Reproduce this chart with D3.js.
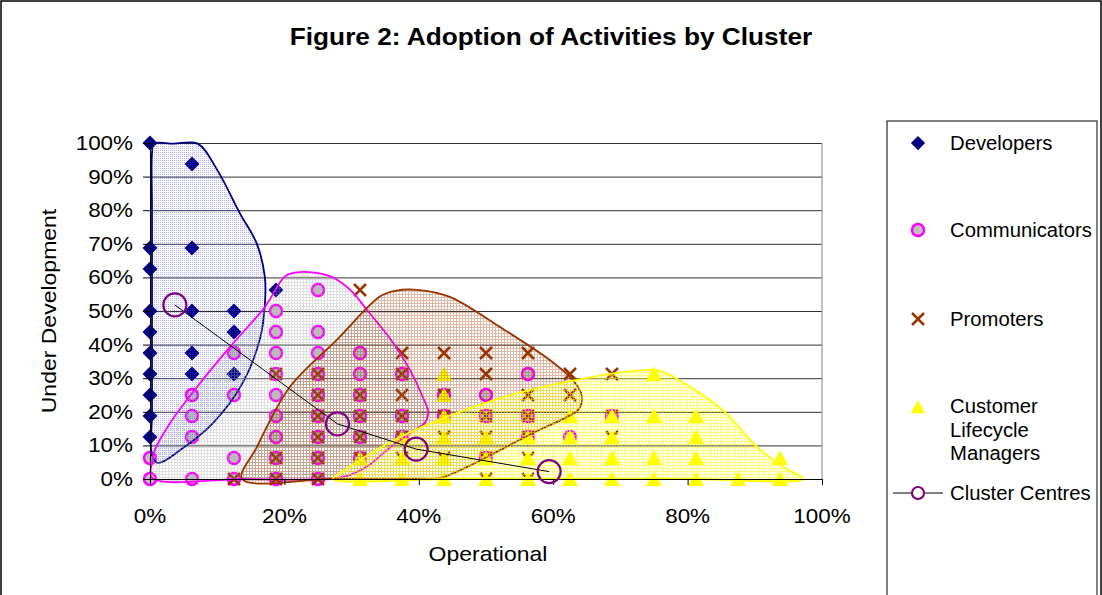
<!DOCTYPE html>
<html>
<head>
<meta charset="utf-8">
<script src="https://cdn.jsdelivr.net/npm/d3@7"></script>
<style>
  html, body { margin: 0; padding: 0; background: #fff; }
  text { font-family: "Liberation Sans", Arial, sans-serif; fill: #000; }
</style>
</head>
<body>
<div id="chart"></div>
<script>
// values are [operational %, under development %]
const developers = [
  [0, 100], [0, 68.75], [0, 62.5], [0, 50], [0, 43.75], [0, 37.5], [0, 31.25], [0, 25], [0, 18.75], [0, 12.5],
  [6.25, 93.75], [6.25, 68.75], [6.25, 50], [6.25, 37.5], [6.25, 31.25],
  [12.5, 50], [12.5, 43.75], [12.5, 31.25],
  [18.75, 56.25]
];
const communicators = [
  [0, 6.25], [0, 0],
  [6.25, 25], [6.25, 18.75], [6.25, 12.5], [6.25, 0],
  [12.5, 37.5], [12.5, 25], [12.5, 6.25], [12.5, 0],
  [18.75, 50], [18.75, 43.75], [18.75, 37.5], [18.75, 31.25], [18.75, 25], [18.75, 18.75], [18.75, 12.5], [18.75, 6.25], [18.75, 0],
  [25, 56.25], [25, 43.75], [25, 37.5], [25, 31.25], [25, 25], [25, 18.75], [25, 12.5], [25, 6.25], [25, 0],
  [31.25, 37.5], [31.25, 31.25], [31.25, 25], [31.25, 18.75], [31.25, 12.5], [31.25, 6.25],
  [37.5, 31.25], [37.5, 18.75], [37.5, 12.5],
  [43.75, 25], [43.75, 18.75],
  [50, 25], [50, 18.75], [50, 6.25],
  [56.25, 31.25], [56.25, 18.75], [56.25, 12.5],
  [62.5, 12.5],
  [68.75, 18.75]
];
const promoters = [
  [12.5, 0],
  [18.75, 31.25], [18.75, 6.25], [18.75, 0],
  [25, 31.25], [25, 25], [25, 18.75], [25, 12.5], [25, 6.25], [25, 0],
  [31.25, 56.25], [31.25, 25], [31.25, 18.75], [31.25, 12.5], [31.25, 6.25],
  [37.5, 37.5], [37.5, 31.25], [37.5, 25], [37.5, 18.75], [37.5, 12.5], [37.5, 6.25],
  [43.75, 37.5], [43.75, 25], [43.75, 18.75], [43.75, 12.5], [43.75, 6.25],
  [50, 37.5], [50, 31.25], [50, 18.75], [50, 12.5], [50, 6.25], [50, 0],
  [56.25, 37.5], [56.25, 25], [56.25, 18.75], [56.25, 12.5], [56.25, 6.25], [56.25, 0],
  [62.5, 31.25], [62.5, 25],
  [68.75, 31.25], [68.75, 18.75], [68.75, 12.5]
];
const lifecycleManagers = [
  [31.25, 6.25], [31.25, 0],
  [37.5, 12.5], [37.5, 6.25], [37.5, 0],
  [43.75, 31.25], [43.75, 25], [43.75, 18.75], [43.75, 12.5], [43.75, 6.25], [43.75, 0],
  [50, 12.5], [50, 6.25], [50, 0],
  [56.25, 12.5], [56.25, 6.25], [56.25, 0],
  [62.5, 18.75], [62.5, 12.5], [62.5, 6.25], [62.5, 0],
  [68.75, 18.75], [68.75, 12.5], [68.75, 6.25], [68.75, 0],
  [75, 31.25], [75, 18.75], [75, 6.25], [75, 0],
  [81.25, 18.75], [81.25, 12.5], [81.25, 6.25], [81.25, 0],
  [87.5, 0],
  [93.75, 6.25], [93.75, 0]
];
const clusterCentres = [[3.7, 51.8], [27.9, 16.4], [39.6, 8.9], [59.4, 2.2]];

// hand drawn cluster outlines, same units
const devOutline = [[0.3, 97], [0.6, 99.8], [3.5, 99.8], [7.1, 99.8], [10, 92], [13.4, 79], [15.9, 70], [17.1, 60], [17.1, 52], [16.4, 42], [13.8, 28.6], [9.4, 16.7], [4.5, 8.6], [1.2, 4.8], [0.3, 7], [0.3, 20], [0.3, 50], [0.3, 80]];
const commOutline = [[0.3, 0.3], [0.3, 5], [0.7, 8.6], [3, 16.7], [7, 27.4], [11.9, 39.3], [17.1, 51.2], [20.2, 60.5], [22.3, 61.6], [26.8, 60.4], [29.8, 56.3], [32.3, 50.3], [36.2, 40.5], [38.7, 32.4], [40.6, 24.4], [41.4, 19.9], [40.9, 16.7], [38.7, 13.7], [35.5, 9], [32.5, 4], [29.5, 1], [26, 0], [14, 0]];
const promOutline = [[13.7, 0], [15.9, 9.5], [20.8, 27.4], [27.8, 41.4], [34.2, 54.3], [36.5, 56], [39.7, 56.3], [44.6, 54.2], [52.1, 45.2], [59.5, 35.4], [62.9, 29.5], [64.3, 24.4], [63.7, 20.5], [62.1, 18.5], [57, 13.7], [52.1, 8.6], [47.2, 3.6], [43.2, 0.3], [40, 0], [27, 0]];
const clmOutline = [[27.2, 0], [29, 2.7], [37.2, 12.5], [52.1, 24.1], [64.3, 29.8], [72.9, 32.3], [76, 32.1], [80.4, 27.4], [85.4, 20.2], [90.5, 9.2], [94.5, 3.3], [97.2, 0], [80, 0], [62, 0], [45, 0]];

const yTicks = [0, 10, 20, 30, 40, 50, 60, 70, 80, 90, 100];
const xTicks = [0, 20, 40, 60, 80, 100];
const legendLabels = ["Developers", "Communicators", "Promoters", ["Customer", "Lifecycle", "Managers"], "Cluster Centres"];

const plotLeft = 150, plotTop = 143, plotWidth = 672, plotHeight = 336;

const svg = d3.select("#chart").append("svg")
  .attr("width", 1102).attr("height", 595);

svg.append("rect").attr("x", 0).attr("y", 0).attr("width", 1102).attr("height", 595).attr("fill", "#fff");
svg.append("rect").attr("x", 1).attr("y", 1).attr("width", 1100).attr("height", 600)
  .attr("fill", "none").attr("stroke", "#000").attr("stroke-width", 1.5);

// patterns for the cluster shading
const defs = svg.append("defs");
function gridPattern(id, colour, opacity) {
  const p = defs.append("pattern").attr("id", id).attr("patternUnits", "userSpaceOnUse")
    .attr("width", 3).attr("height", 3);
  p.append("rect").attr("width", 3).attr("height", 1).attr("fill", colour).attr("opacity", opacity);
  p.append("rect").attr("y", 1).attr("width", 1).attr("height", 2).attr("fill", colour).attr("opacity", opacity);
}
const dotPat = defs.append("pattern").attr("id", "devPat").attr("patternUnits", "userSpaceOnUse")
  .attr("width", 2).attr("height", 2);
dotPat.append("rect").attr("width", 1).attr("height", 1).attr("fill", "#3b3bff").attr("opacity", 0.42);
gridPattern("commPat", "#a8a8a8", 0.36);
gridPattern("promPat", "#993300", 0.34);
gridPattern("clmPat", "#ffff00", 0.5);

const x = d3.scaleLinear().domain([0, 100]).range([plotLeft, plotLeft + plotWidth]);
const y = d3.scaleLinear().domain([0, 100]).range([plotTop + plotHeight, plotTop]);

function label(sel, px, py, str, o) {
  o = o || {};
  return sel.append("text")
    .attr("transform", `translate(${px},${py})` + (o.rotate ? ` rotate(${o.rotate})` : "") + ` scale(${o.sx || 1.15},1)`)
    .attr("text-anchor", o.anchor || "start")
    .style("font-size", (o.size || 19.5) + "px")
    .style("font-weight", o.weight || "normal")
    .text(str);
}

// title
label(svg, 551, 45, "Figure 2: Adoption of Activities by Cluster", { anchor: "middle", size: 23, weight: "bold", sx: 1.14 });

// gridlines
svg.append("g")
  .attr("transform", `translate(${plotLeft},0)`)
  .call(d3.axisLeft(y).tickValues(yTicks).tickSize(-plotWidth).tickFormat(""))
  .call(g => g.select(".domain").remove())
  .call(g => g.selectAll("line").attr("stroke", "#333"));

// markers
const diamond = "M0,-7.5L7.5,0L0,7.5L-7.5,0Z";
const triangle = "M0,-7.5L8,7L-8,7Z";

const marks = svg.append("g");
function drawDiamonds(g, data) {
  g.selectAll(null).data(data).join("path")
    .attr("d", diamond)
    .attr("transform", d => `translate(${x(d[0])},${y(d[1])})`)
    .attr("fill", "#000080");
}
function drawCircles(g, data) {
  g.selectAll(null).data(data).join("circle")
    .attr("cx", d => x(d[0])).attr("cy", d => y(d[1])).attr("r", 6)
    .attr("fill", "#c0c0c0").attr("stroke", "#ff00ff").attr("stroke-width", 2.5);
}
function drawCrosses(g, data) {
  g.selectAll(null).data(data).join("path")
    .attr("d", "M-6,-6L6,6M-6,6L6,-6")
    .attr("transform", d => `translate(${x(d[0])},${y(d[1])})`)
    .attr("stroke", "#993300").attr("stroke-width", 2.5).attr("fill", "none");
}
function drawTriangles(g, data) {
  g.selectAll(null).data(data).join("path")
    .attr("d", triangle)
    .attr("transform", d => `translate(${x(d[0])},${y(d[1])})`)
    .attr("fill", "#ffff00");
}
drawDiamonds(marks.append("g"), developers);
drawCircles(marks.append("g"), communicators);
drawCrosses(marks.append("g"), promoters);
drawTriangles(marks.append("g"), lifecycleManagers);

// cluster outlines over the points
const blob = d3.line().x(d => x(d[0])).y(d => y(d[1])).curve(d3.curveCatmullRomClosed.alpha(0.5));
const outlines = [
  [devOutline, "url(#devPat)", "#000080"],
  [commOutline, "url(#commPat)", "#ff00ff"],
  [promOutline, "url(#promPat)", "#993300"],
  [clmOutline, "url(#clmPat)", "#ffff00"]
];
outlines.forEach(o => {
  svg.append("path").datum(o[0])
    .attr("d", blob)
    .attr("fill", o[1])
    .attr("stroke", o[2])
    .attr("stroke-width", 1.8);
});

// axes
svg.append("g")
  .attr("transform", `translate(${plotLeft},0)`)
  .call(d3.axisLeft(y).tickValues(yTicks).tickSize(7).tickFormat(""))
  .call(g => g.selectAll("line, path").attr("stroke", "#000"));
svg.append("g")
  .attr("transform", `translate(0,${plotTop + plotHeight})`)
  .call(d3.axisBottom(x).tickValues(xTicks).tickSize(6).tickFormat(""))
  .call(g => g.selectAll("line, path").attr("stroke", "#000"));
svg.append("line")
  .attr("x1", x(100)).attr("x2", x(100)).attr("y1", y(0)).attr("y2", y(100))
  .attr("stroke", "#888");

// cluster centres
svg.append("path").datum(clusterCentres)
  .attr("d", d3.line().x(d => x(d[0])).y(d => y(d[1])))
  .attr("fill", "none").attr("stroke", "#000").attr("stroke-width", 1);
svg.append("g").selectAll("circle").data(clusterCentres).join("circle")
  .attr("cx", d => x(d[0])).attr("cy", d => y(d[1])).attr("r", 11.5)
  .attr("fill", "none").attr("stroke", "#800080").attr("stroke-width", 2.2);

// tick labels
yTicks.forEach(t => label(svg, 133, y(t) + 7, t + "%", { anchor: "end" }));
xTicks.forEach(t => label(svg, x(t), 523, t + "%", { anchor: "middle" }));
label(svg, 488, 561, "Operational", { anchor: "middle", size: 20 });
label(svg, 56, 311, "Under Development", { anchor: "middle", size: 20, rotate: -90 });

// legend
const lg = svg.append("g");
lg.append("rect").attr("x", 887).attr("y", 121).attr("width", 210).attr("height", 490)
  .attr("fill", "#fff").attr("stroke", "#000").attr("stroke-width", 1);
const legendY = [143, 230, 319, 407, 493];
const mx = 918, tx = 950;
lg.append("path").attr("d", diamond).attr("transform", `translate(${mx},${legendY[0]}) scale(0.95)`).attr("fill", "#000080");
lg.append("circle").attr("cx", mx).attr("cy", legendY[1]).attr("r", 6)
  .attr("fill", "#c0c0c0").attr("stroke", "#ff00ff").attr("stroke-width", 2.5);
lg.append("path").attr("d", "M-6,-6L6,6M-6,6L6,-6").attr("transform", `translate(${mx},${legendY[2]})`)
  .attr("stroke", "#993300").attr("stroke-width", 2.5);
lg.append("path").attr("d", triangle).attr("transform", `translate(${mx},${legendY[3]}) scale(0.9)`).attr("fill", "#ffff00");
lg.append("line").attr("x1", 893).attr("x2", 943).attr("y1", legendY[4]).attr("y2", legendY[4]).attr("stroke", "#000");
lg.append("circle").attr("cx", mx).attr("cy", legendY[4]).attr("r", 6)
  .attr("fill", "#fff").attr("stroke", "#800080").attr("stroke-width", 2.2);

legendLabels.forEach((l, i) => {
  if (Array.isArray(l)) {
    l.forEach((line, k) => label(lg, tx, 413 + k * 23.7, line, { sx: 1.04 }));
  } else {
    label(lg, tx, legendY[i] + 7, l, { sx: 1.04 });
  }
});
</script>
</body>
</html>
